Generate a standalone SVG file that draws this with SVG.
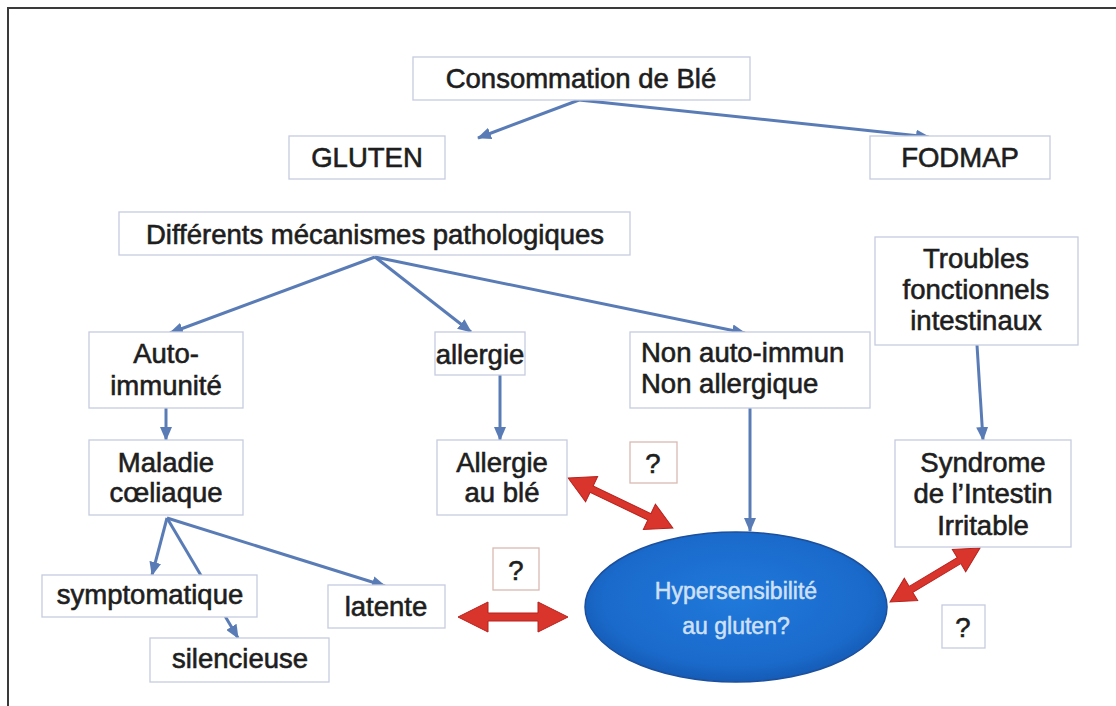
<svg xmlns="http://www.w3.org/2000/svg" width="1116" height="706" viewBox="0 0 1116 706">
<defs>
<style>
.box{fill:#ffffff;stroke:#c6cce0;stroke-width:1.3}
.q{fill:#ffffff;stroke:#d9b9b2;stroke-width:1.3}
.t{font-family:"Liberation Sans",Arial,sans-serif;font-size:27.5px;fill:#1e1e1e;stroke:#1e1e1e;stroke-width:0.6;text-anchor:middle}
.tl{text-anchor:start}
.con{stroke:#5a7cb6;stroke-width:3;fill:none;marker-end:url(#ah)}
.red{fill:#d9352c;stroke:#b5221d;stroke-width:1}
.et{font-family:"Liberation Sans",Arial,sans-serif;font-size:23px;fill:#cfe0f6;stroke:#cfe0f6;stroke-width:0.5;text-anchor:middle}
</style>
<marker id="ah" markerUnits="userSpaceOnUse" markerWidth="14" markerHeight="12" viewBox="0 0 14 12" refX="13" refY="6" orient="auto">
<path d="M0,0 L14,6 L0,12 Z" fill="#5a7cb6"/>
</marker>
<radialGradient id="eg" cx="50%" cy="45%" r="55%">
<stop offset="0" stop-color="#2079da"/>
<stop offset="0.8" stop-color="#1a6acb"/>
<stop offset="1" stop-color="#155bb5"/>
</radialGradient>
</defs>
<rect x="0" y="0" width="1116" height="706" fill="#ffffff"/>
<path d="M8,706 L8,8 L1116,8" fill="none" stroke="#3a3a3a" stroke-width="2"/>

<g id="connectors">
<line class="con" x1="579" y1="100" x2="478" y2="138"/>
<line class="con" x1="579" y1="100" x2="929" y2="137"/>
<line class="con" x1="375" y1="257" x2="170" y2="333"/>
<line class="con" x1="375" y1="257" x2="471" y2="332"/>
<line class="con" x1="375" y1="257" x2="745" y2="333"/>
<line class="con" x1="166" y1="408" x2="166" y2="440"/>
<line class="con" x1="500" y1="375" x2="500" y2="440"/>
<line class="con" x1="750" y1="408" x2="750" y2="531"/>
<line class="con" x1="977" y1="345" x2="983" y2="440"/>
<line class="con" x1="167" y1="518" x2="152" y2="575"/>
<line class="con" x1="167" y1="518" x2="238" y2="638"/>
<line class="con" x1="167" y1="518" x2="385" y2="586"/>
<path class="red" transform="translate(513,617)" d="M-55,0 L-25,-15 L-25,-4 L25,-4 L25,-15 L55,0 L25,15 L25,4 L-25,4 L-25,15 Z"/>
<path class="red" transform="translate(620.5,503) rotate(25.5)" d="M-58,0 L-32,-14 L-32,-3.5 L32,-3.5 L32,-14 L58,0 L32,14 L32,3.5 L-32,3.5 L-32,14 Z"/>
<path class="red" transform="translate(935,575) rotate(-31)" d="M-52.5,0 L-28,-13 L-28,-3.5 L28,-3.5 L28,-13 L52.5,0 L28,13 L28,3.5 L-28,3.5 L-28,13 Z"/>
</g>

<g id="consommation">
<rect class="box" x="413" y="57" width="337" height="43"/>
<text class="t" x="581" y="88">Consommation de Blé</text>
</g>
<g id="gluten">
<rect class="box" x="289" y="136" width="156" height="43"/>
<text class="t" x="367" y="167">GLUTEN</text>
</g>
<g id="fodmap">
<rect class="box" x="870" y="136" width="180" height="43"/>
<text class="t" x="960" y="167">FODMAP</text>
</g>
<g id="mecanismes">
<rect class="box" x="119" y="212" width="511" height="43"/>
<text class="t" x="375" y="244">Différents mécanismes pathologiques</text>
</g>
<g id="troubles">
<rect class="box" x="875" y="237" width="203" height="108"/>
<text class="t" x="976" y="268">Troubles</text>
<text class="t" x="976" y="299">fonctionnels</text>
<text class="t" x="976" y="330">intestinaux</text>
</g>
<g id="autoimmunite">
<rect class="box" x="89" y="332" width="154" height="76"/>
<text class="t" x="166" y="363">Auto-</text>
<text class="t" x="166" y="395">immunité</text>
</g>
<g id="allergie">
<rect class="box" x="435" y="332" width="90" height="43"/>
<text class="t" x="480" y="364">allergie</text>
</g>
<g id="nonautoimmun">
<rect class="box" x="630" y="332" width="240" height="76"/>
<text class="t tl" x="641" y="362">Non auto-immun</text>
<text class="t tl" x="641" y="393">Non allergique</text>
</g>
<g id="maladie">
<rect class="box" x="89" y="440" width="154" height="75"/>
<text class="t" x="166" y="472">Maladie</text>
<text class="t" x="166" y="502">cœliaque</text>
</g>
<g id="allergieble">
<rect class="box" x="437" y="440" width="130" height="75"/>
<text class="t" x="502" y="472">Allergie</text>
<text class="t" x="502" y="502">au blé</text>
</g>
<g id="q1">
<rect class="q" x="630" y="442" width="47" height="41"/>
<text class="t" x="653" y="473">?</text>
</g>
<g id="syndrome">
<rect class="box" x="895" y="440" width="176" height="107"/>
<text class="t" x="983" y="472">Syndrome</text>
<text class="t" x="983" y="503">de l’Intestin</text>
<text class="t" x="983" y="535">Irritable</text>
</g>
<g id="symptomatique">
<rect class="box" x="42" y="575" width="215" height="42"/>
<text class="t" x="150" y="604">symptomatique</text>
</g>
<g id="silencieuse">
<rect class="box" x="150" y="638" width="179" height="44"/>
<text class="t" x="240" y="668">silencieuse</text>
</g>
<g id="latente">
<rect class="box" x="328" y="585" width="117" height="43"/>
<text class="t" x="386" y="616">latente</text>
</g>
<g id="q2">
<rect class="q" x="493" y="548" width="46" height="42"/>
<text class="t" x="516" y="580">?</text>
</g>
<g id="q3">
<rect class="box" x="942" y="605" width="43" height="43"/>
<text class="t" x="963" y="637">?</text>
</g>
<g id="hypersensibilite">
<ellipse cx="736" cy="607" rx="151" ry="75" fill="url(#eg)" stroke="#1c4f9c" stroke-width="1.5"/>
<text class="et" x="736" y="599">Hypersensibilité</text>
<text class="et" x="736" y="634">au gluten?</text>
</g>
</svg>
